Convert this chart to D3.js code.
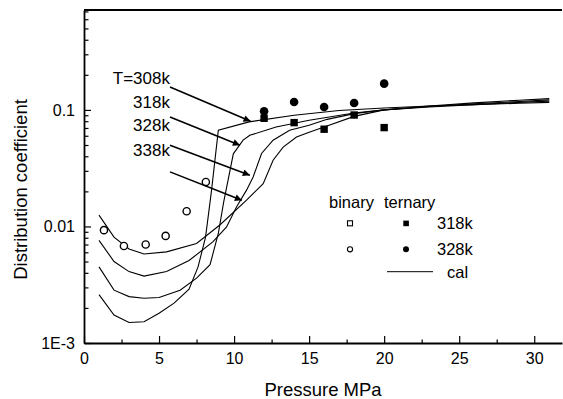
<!DOCTYPE html>
<html>
<head>
  <meta charset="utf-8" />
  <title>Distribution coefficient</title>
  <script src="https://d3js.org/d3.v7.min.js"></script>
  <style>
    body { margin: 0; background: #fff; }
    text { font-family: "Liberation Sans", Arial, sans-serif; fill: #000; }
  </style>
</head>
<body>
  <script>
    // calculated curves (cal), pressure in MPa
    const p308 = [1, 2, 3, 4, 5, 6, 7, 7.6, 8.1, 8.5, 8.95, 11, 14, 17, 20, 23, 26, 29, 31];
    const k308 = [0.0026, 0.00174, 0.0015, 0.00152, 0.0018, 0.0022, 0.0029, 0.0045, 0.0081, 0.0205, 0.067, 0.079, 0.09, 0.099, 0.104, 0.108, 0.111, 0.114, 0.116];

    const p318 = [1, 2, 3, 4, 5, 6.4, 7.5, 8.4, 8.95, 9.3, 9.6, 9.95, 10.6, 11.05, 12.8, 15, 18, 20, 23, 26, 29, 31];
    const k318 = [0.0045, 0.00284, 0.0025, 0.00242, 0.00246, 0.00284, 0.0036, 0.0047, 0.0087, 0.016, 0.025, 0.042, 0.055, 0.0605, 0.0714, 0.0815, 0.094, 0.1, 0.106, 0.111, 0.116, 0.119];

    const p328 = [1, 2, 3, 4, 5.5, 7, 8.6, 9.5, 10.16, 10.83, 11.27, 11.83, 12.6, 13.7, 15, 16.2, 18, 20, 23, 26, 29, 31];
    const k328 = [0.0076, 0.005, 0.0041, 0.00375, 0.0041, 0.0051, 0.0074, 0.0099, 0.0147, 0.0205, 0.0266, 0.0423, 0.055, 0.0668, 0.0738, 0.083, 0.093, 0.1, 0.107, 0.113, 0.118, 0.122];

    const p338 = [1, 2, 3, 4, 5.5, 7.5, 9.05, 10.83, 11.94, 12.6, 13.27, 14.16, 15.05, 16, 18, 20, 23, 26, 29, 31];
    const k338 = [0.0125, 0.0081, 0.0064, 0.0058, 0.00605, 0.00714, 0.0103, 0.0168, 0.0233, 0.037, 0.048, 0.0586, 0.0647, 0.0714, 0.088, 0.1, 0.108, 0.115, 0.121, 0.125];

    // experimental points
    const binaryP = [1.33, 2.66, 4.11, 5.44, 6.84, 8.12];
    const binaryK = [0.0093, 0.0068, 0.0070, 0.0083, 0.0135, 0.0241];

    const ternaryP = [12, 14, 16, 18, 20];
    const ternary318 = [0.0848, 0.0778, 0.0683, 0.0904, 0.0705];
    const ternary328 = [0.0973, 0.117, 0.106, 0.1146, 0.168];

    // curve labels and arrows (data units)
    const curveLabels = ["T=308k", "318k", "328k", "338k"];
    const labelK = [0.187, 0.117, 0.0738, 0.045];
    const arrowFrom = [[5.73, 0.157], [5.73, 0.087], [5.73, 0.0498], [5.73, 0.0294]];
    const arrowTo = [[11.1, 0.0798], [10.39, 0.0498], [11.05, 0.0275], [10.52, 0.0168]];

    const xTicks = [0, 5, 10, 15, 20, 25, 30];
    const yTicks = [0.001, 0.01, 0.1];
    const yTickLabels = ["1E-3", "0.01", "0.1"];

    let width = 563;
    let height = 399;

    let svg = d3.select("body")
      .append("svg")
      .attr("width", width)
      .attr("height", height);

    let x = d3.scaleLinear().domain([0, 31.85]).range([84, 562]);
    let y = d3.scaleLog().domain([0.001, 0.72]).range([343, 10]);

    // minor ticks
    let xMinor = d3.range(2.5, 31, 5);
    let yMinor = [];
    [0.001, 0.01, 0.1].forEach(d => {
      for (let m = 2; m <= 9; m++) {
        if (d * m <= 0.72) yMinor.push(d * m);
      }
    });

    svg.append("g")
      .attr("transform", `translate(0, ${y(0.001)})`)
      .call(d3.axisBottom(x).tickValues(xMinor).tickSize(-3.5).tickSizeOuter(0).tickFormat(""))
      .call(g => g.select(".domain").remove())
      .selectAll("line").attr("stroke-width", 1.2);

    svg.append("g")
      .attr("transform", `translate(${x(0)}, 0)`)
      .call(d3.axisLeft(y).tickValues(yMinor).tickSize(-4.5).tickSizeOuter(0).tickFormat(""))
      .call(g => g.select(".domain").remove())
      .selectAll("line").attr("stroke-width", 1.2);

    // major axes
    let gx = svg.append("g")
      .attr("transform", `translate(0, ${y(0.001)})`)
      .call(d3.axisBottom(x).tickValues(xTicks).tickSize(-7).tickSizeOuter(0).tickPadding(10));
    gx.selectAll("text").style("font-size", "16px");

    let gy = svg.append("g")
      .attr("transform", `translate(${x(0)}, 0)`)
      .call(d3.axisLeft(y).tickValues(yTicks).tickSize(-7).tickSizeOuter(0).tickPadding(9)
        .tickFormat((d, i) => yTickLabels[i]));
    gy.selectAll("text").style("font-size", "16px");

    svg.selectAll(".domain").attr("stroke-width", 1.8);
    svg.selectAll(".tick line").attr("stroke-width", 1.2);

    // top frame line
    svg.append("line")
      .attr("x1", x(0)).attr("x2", x(31.85))
      .attr("y1", y(0.72)).attr("y2", y(0.72))
      .attr("stroke", "#000").attr("stroke-width", 1.8);

    // axis titles
    svg.append("text")
      .attr("x", (x(0) + x(31.85)) / 2)
      .attr("y", 396)
      .attr("text-anchor", "middle")
      .style("font-size", "18.5px")
      .text("Pressure MPa");

    svg.append("text")
      .attr("transform", `translate(27, ${(y(0.001) + y(0.72)) / 2 + 13}) rotate(-90)`)
      .attr("text-anchor", "middle")
      .style("font-size", "18.5px")
      .text("Distribution coefficient");

    // calculated curves
    let lineF = d3.line()
      .x(d => x(d[0]))
      .y(d => y(d[1]));

    [[p308, k308], [p318, k318], [p328, k328], [p338, k338]].forEach(c => {
      svg.append("path")
        .datum(c[0].map((p, i) => [p, c[1][i]]))
        .attr("d", lineF)
        .attr("fill", "none")
        .attr("stroke", "#000")
        .attr("stroke-width", 1.1);
    });

    // binary (open circles)
    svg.selectAll("circle.bin")
      .data(binaryP)
      .enter()
      .append("circle")
      .attr("class", "bin")
      .attr("cx", d => x(d))
      .attr("cy", (d, i) => y(binaryK[i]))
      .attr("r", 3.6)
      .attr("fill", "#fff")
      .attr("stroke", "#000")
      .attr("stroke-width", 1.4);

    // ternary 318k (filled squares)
    svg.selectAll("rect.t318")
      .data(ternaryP)
      .enter()
      .append("rect")
      .attr("class", "t318")
      .attr("x", d => x(d) - 3.7)
      .attr("y", (d, i) => y(ternary318[i]) - 3.7)
      .attr("width", 7.4)
      .attr("height", 7.4)
      .attr("fill", "#000");

    // ternary 328k (filled circles)
    svg.selectAll("circle.t328")
      .data(ternaryP)
      .enter()
      .append("circle")
      .attr("class", "t328")
      .attr("cx", d => x(d))
      .attr("cy", (d, i) => y(ternary328[i]))
      .attr("r", 4.3)
      .attr("fill", "#000");

    // arrows to the curves
    svg.append("defs").append("marker")
      .attr("id", "head")
      .attr("viewBox", "0 0 10 10")
      .attr("refX", 10).attr("refY", 5)
      .attr("markerWidth", 9).attr("markerHeight", 7)
      .attr("markerUnits", "userSpaceOnUse")
      .attr("orient", "auto")
      .append("path")
      .attr("d", "M0,0 L10,5 L0,10 z")
      .attr("fill", "#000");

    arrowFrom.forEach((f, i) => {
      svg.append("line")
        .attr("x1", x(f[0])).attr("y1", y(f[1]))
        .attr("x2", x(arrowTo[i][0])).attr("y2", y(arrowTo[i][1]))
        .attr("stroke", "#000")
        .attr("stroke-width", 1.6)
        .attr("marker-end", "url(#head)");
    });

    svg.selectAll("text.clab")
      .data(curveLabels)
      .enter()
      .append("text")
      .attr("class", "clab")
      .attr("x", x(5.73))
      .attr("y", (d, i) => y(labelK[i]))
      .attr("dy", "0.36em")
      .attr("text-anchor", "end")
      .style("font-size", "17px")
      .text(d => d);

    // legend
    let leg = svg.append("g").style("font-size", "16.5px");
    leg.append("text").attr("x", 329).attr("y", 208).text("binary");
    leg.append("text").attr("x", 384).attr("y", 208).text("ternary");

    leg.append("rect").attr("x", 347.5).attr("y", 220.8).attr("width", 5).attr("height", 5)
      .attr("fill", "#fff").attr("stroke", "#000").attr("stroke-width", 1.1);
    leg.append("rect").attr("x", 403.3).attr("y", 220.6).attr("width", 5.6).attr("height", 5.6)
      .attr("fill", "#000");
    leg.append("text").attr("x", 437).attr("y", 223.3).attr("dy", "0.36em").text("318k");

    leg.append("circle").attr("cx", 350).attr("cy", 249.3).attr("r", 2.6)
      .attr("fill", "#fff").attr("stroke", "#000").attr("stroke-width", 1.1);
    leg.append("circle").attr("cx", 406).attr("cy", 249.3).attr("r", 3)
      .attr("fill", "#000");
    leg.append("text").attr("x", 437).attr("y", 249.3).attr("dy", "0.36em").text("328k");

    leg.append("line").attr("x1", 387).attr("x2", 433).attr("y1", 271.7).attr("y2", 271.7)
      .attr("stroke", "#000").attr("stroke-width", 1);
    leg.append("text").attr("x", 447).attr("y", 271.7).attr("dy", "0.36em").text("cal");
  </script>
</body>
</html>
